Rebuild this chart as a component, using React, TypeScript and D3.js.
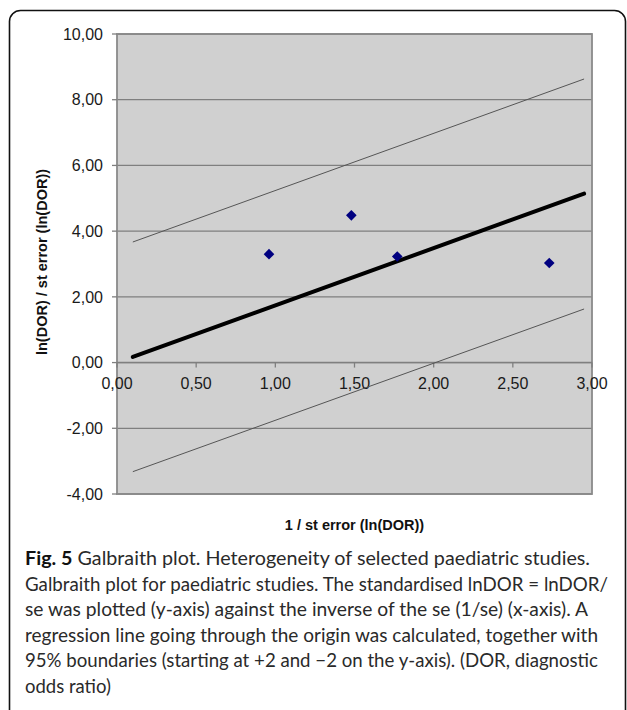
import React from "react";
import * as d3 from "d3";

// values
const studyX = [0.96, 1.48, 1.77, 2.73];
const studyY = [3.3, 4.48, 3.23, 3.03];

const lineX = [0.1, 2.95];
const regressionY = [0.17, 5.14];
const upperY = [3.67, 8.63];
const lowerY = [-3.32, 1.63];

const xTicks = [0, 0.5, 1, 1.5, 2, 2.5, 3];
const yTicks = [-4, -2, 0, 2, 4, 6, 8, 10];

const captionLines = [
  " Galbraith plot. Heterogeneity of selected paediatric studies.",
  "Galbraith plot for paediatric studies. The standardised lnDOR = lnDOR/",
  "se was plotted (y-axis) against the inverse of the se (1/se) (x-axis). A",
  "regression line going through the origin was calculated, together with",
  "95% boundaries (starting at +2 and \u22122 on the y-axis). (DOR, diagnostic",
  "odds ratio)",
];
const captionEnds = [590, 608, 588, 598, 598, 0];

const W = 627;
const H = 710;
const plot = { left: 117, right: 592, top: 34, bottom: 494 };

const locale = d3.formatLocale({
  decimal: ",",
  thousands: ".",
  grouping: [3],
  currency: ["", ""],
  minus: "-",
});
const fmt = locale.format(".2f");

export default function App() {
  const x = d3.scaleLinear().domain([0, 3]).range([plot.left, plot.right]);
  const y = d3.scaleLinear().domain([-4, 10]).range([plot.bottom, plot.top]);

  const line = d3
    .line<[number, number]>()
    .x((d) => x(d[0]))
    .y((d) => y(d[1]));

  const pts = (ys: number[]) => lineX.map((v, i) => [v, ys[i]] as [number, number]);
  const diamond = d3.symbol().type(d3.symbolDiamond2).size(72)();

  const capX = 25;
  const capY0 = 565;
  const capStep = 25.5;

  return (
    <svg
      width={W}
      height={H}
      style={{ position: "absolute", left: 0, top: 0, background: "#fff" }}
    >
      <rect
        x={9.5}
        y={10.5}
        width={616}
        height={730}
        rx={11}
        fill="none"
        stroke="#111"
        strokeWidth={1.6}
      />

      {/* plot area */}
      <rect
        x={plot.left}
        y={plot.top}
        width={plot.right - plot.left}
        height={plot.bottom - plot.top}
        fill="#d0d0d0"
      />
      {yTicks.map((t) => (
        <line
          key={"g" + t}
          x1={plot.left}
          x2={plot.right}
          y1={y(t)}
          y2={y(t)}
          stroke="#7f7f7f"
          strokeWidth={1.3}
        />
      ))}
      <rect
        x={plot.left}
        y={plot.top}
        width={plot.right - plot.left}
        height={plot.bottom - plot.top}
        fill="none"
        stroke="#8a8a8a"
        strokeWidth={1.8}
      />

      {/* y axis ticks */}
      {yTicks.map((t) => (
        <g key={"y" + t}>
          <line x1={plot.left - 5} x2={plot.left} y1={y(t)} y2={y(t)} stroke="#7f7f7f" strokeWidth={1.3} />
          <text
            x={103}
            y={y(t)}
            dy="0.36em"
            textAnchor="end"
            fontFamily="Liberation Sans, Arial, sans-serif"
            fontSize={16}
            fill="#1a1a1a"
          >
            {fmt(t)}
          </text>
        </g>
      ))}

      {/* x axis along y = 0 */}
      <line x1={plot.left} x2={plot.right} y1={y(0)} y2={y(0)} stroke="#7f7f7f" strokeWidth={1.4} />
      {xTicks.map((t) => (
        <g key={"x" + t}>
          <line x1={x(t)} x2={x(t)} y1={y(0)} y2={y(0) + 5} stroke="#7f7f7f" strokeWidth={1.3} />
          <text
            x={x(t)}
            y={389}
            textAnchor="middle"
            fontFamily="Liberation Sans, Arial, sans-serif"
            fontSize={16}
            fill="#1a1a1a"
          >
            {fmt(t)}
          </text>
        </g>
      ))}

      {/* boundaries and regression */}
      <path d={line(pts(upperY)) || ""} fill="none" stroke="#555" strokeWidth={1} />
      <path d={line(pts(lowerY)) || ""} fill="none" stroke="#555" strokeWidth={1} />
      <path
        d={line(pts(regressionY)) || ""}
        fill="none"
        stroke="#000"
        strokeWidth={4}
        strokeLinecap="round"
      />

      {studyX.map((v, i) => (
        <path
          key={"p" + i}
          d={diamond || ""}
          transform={`translate(${x(v)},${y(studyY[i])})`}
          fill="#000080"
        />
      ))}

      {/* axis titles */}
      <text
        transform={`translate(47,${(plot.top + plot.bottom) / 2 - 2}) rotate(-90)`}
        textAnchor="middle"
        fontFamily="Liberation Sans, Arial, sans-serif"
        fontWeight="bold"
        fontSize={14.5}
        fill="#111"
      >
        ln(DOR) / st error (ln(DOR))
      </text>
      <text
        x={(plot.left + plot.right) / 2}
        y={530}
        textAnchor="middle"
        fontFamily="Liberation Sans, Arial, sans-serif"
        fontWeight="bold"
        fontSize={14.5}
        fill="#111"
      >
        1 / st error (ln(DOR))
      </text>

      {/* caption */}
      {captionLines.map((s, i) => (
        <text
          key={"c" + i}
          x={capX}
          y={capY0 + i * capStep}
          fontFamily="Lato, Open Sans, sans-serif"
          fontSize={18.5}
          fill="#2a2a2a"
          textLength={captionEnds[i] ? captionEnds[i] - capX : undefined}
          lengthAdjust="spacingAndGlyphs"
        >
          {i === 0 && (
            <tspan fontWeight="bold" fill="#111">
              Fig. 5
            </tspan>
          )}
          {s}
        </text>
      ))}
    </svg>
  );
}
